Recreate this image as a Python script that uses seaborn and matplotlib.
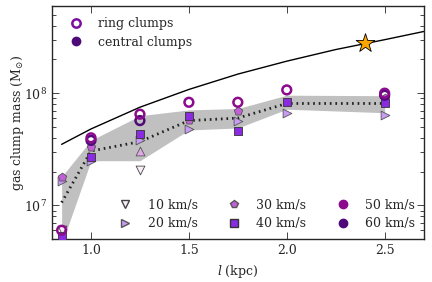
import numpy as np
import seaborn as sns
import matplotlib.pyplot as plt
from matplotlib.lines import Line2D

sns.set_style('ticks')
plt.rcParams['font.family'] = ['DejaVu Serif']
plt.rcParams['mathtext.fontset'] = 'dejavuserif'
plt.rcParams['font.size'] = 9

# clump separation l (kpc)
l_vals = [0.85, 1.0, 1.25, 1.5, 1.75, 2.0, 2.5]

# mean and spread
mean_mass = [1.06e7, 3.05e7, 3.7e7, 5.7e7, 6.0e7, 8.1e7, 8.1e7]
band_low = [4.5e6, 2.5e7, 2.5e7, 4.7e7, 4.9e7, 7.2e7, 6.7e7]
band_high = [1.8e7, 3.8e7, 6.3e7, 7.1e7, 7.3e7, 9.6e7, 9.5e7]

# per velocity dispersion
l_10 = [0.85, 1.25]
m_10 = [6.0e6, 2.07e7]
l_15 = [1.25]
m_15 = [3.05e7]
l_20 = [0.85, 1.0, 1.25, 1.5, 1.75, 2.0, 2.5]
m_20 = [1.65e7, 2.5e7, 3.8e7, 4.8e7, 5.7e7, 6.6e7, 6.4e7]
l_30 = [0.85, 1.0, 1.5, 1.75, 2.5]
m_30 = [1.8e7, 3.3e7, 5.8e7, 6.9e7, 9.0e7]
l_40 = [0.85, 1.0, 1.25, 1.5, 1.75, 2.0, 2.5]
m_40 = [5.3e6, 2.7e7, 4.3e7, 6.2e7, 4.6e7, 8.4e7, 8.1e7]
l_50 = [0.85, 1.0, 1.25, 1.5, 1.75, 2.0, 2.5]
m_50 = [6.0e6, 4.0e7, 6.5e7, 8.3e7, 8.3e7, 1.07e8, 1.0e8]
l_60 = [1.0, 1.25, 2.5]
m_60 = [3.8e7, 5.7e7, 9.6e7]

# upper limit curve
l_curve = [0.85, 1.0, 1.25, 1.5, 1.75, 2.0, 2.25, 2.5, 2.7]
m_curve = [3.5e7, 4.8e7, 7.5e7, 1.08e8, 1.48e8, 1.93e8, 2.45e8, 3.0e8, 3.55e8]
l_star = [2.4]
m_star = [2.8e8]

fig = plt.figure(figsize=(4.32, 2.82), dpi=100)
ax = fig.add_axes([0.120, 0.152, 0.861, 0.827])

ax.fill_between(l_vals, band_low, band_high, color='#c0c0c0', lw=0, zorder=1)
sns.lineplot(x=l_curve, y=m_curve, color='black', lw=1.0, ax=ax, zorder=2)
sns.lineplot(x=l_vals, y=mean_mass, color='#222222', lw=2.0, ax=ax, zorder=2,
             linestyle=(0, (0.6, 1.4)))

c10, c20, c30, c40, c50, c60 = '#f8eef8', '#c79cf2', '#c05fd6', '#8a2be2', '#8c0a8c', '#4f0a7a'

sns.scatterplot(x=l_10, y=m_10, marker='v', s=40, color=c10, edgecolor='#444444', linewidth=0.6, ax=ax, zorder=3)
sns.scatterplot(x=l_15, y=m_15, marker='^', s=40, color='#e2a8ea', edgecolor='#555555', linewidth=0.6, ax=ax, zorder=3)
sns.scatterplot(x=l_20, y=m_20, marker='>', s=40, color=c20, edgecolor='#555555', linewidth=0.6, ax=ax, zorder=3)
sns.scatterplot(x=l_30, y=m_30, marker='p', s=40, color=c30, edgecolor='#555555', linewidth=0.6, ax=ax, zorder=3)
sns.scatterplot(x=l_40, y=m_40, marker='s', s=40, color=c40, edgecolor='#333333', linewidth=0.6, ax=ax, zorder=4)
sns.scatterplot(x=l_60, y=m_60, marker='o', s=40, facecolor='none', edgecolor=c60, linewidth=1.8, ax=ax, zorder=5)
sns.scatterplot(x=l_50, y=m_50, marker='o', s=40, facecolor='none', edgecolor=c50, linewidth=1.8, ax=ax, zorder=5)
sns.scatterplot(x=l_star, y=m_star, marker='*', s=200, color='#ffa500', edgecolor='black', linewidth=0.6, ax=ax, zorder=6)

ax.set_yscale('log')
ax.set_xlim(0.8, 2.7)
ax.set_ylim(5e6, 6e8)
ax.set_xticks([1.0, 1.5, 2.0, 2.5])
ax.set_xticklabels(['1.0', '1.5', '2.0', '2.5'])
ax.set_xlabel('$l$ (kpc)')
ax.set_ylabel(r'gas clump mass (M$_{\odot}$)')
ax.yaxis.set_label_coords(-0.07, 0.5)
ax.tick_params(which='both', direction='in', top=True, right=True)
ax.tick_params(which='major', length=5, width=0.6)
ax.tick_params(which='minor', length=3, width=0.6)
for sp in ax.spines.values():
    sp.set_linewidth(1.0)

top_handles = [
    Line2D([], [], marker='o', ls='', markerfacecolor='none', markeredgecolor='#7a0fa0', markeredgewidth=1.8, markersize=6),
    Line2D([], [], marker='o', ls='', markerfacecolor='#4f0a7a', markeredgecolor='#4f0a7a', markersize=6),
]
leg1 = ax.legend(top_handles, ['ring clumps', 'central clumps'], loc='upper left',
                 frameon=False, handletextpad=0.8, borderaxespad=0.5, labelspacing=0.45)
ax.add_artist(leg1)

bot_handles = [
    Line2D([], [], marker='v', ls='', markerfacecolor=c10, markeredgecolor='#444444', markersize=6),
    Line2D([], [], marker='>', ls='', markerfacecolor=c20, markeredgecolor='#555555', markersize=6),
    Line2D([], [], marker='p', ls='', markerfacecolor=c30, markeredgecolor='#555555', markersize=6),
    Line2D([], [], marker='s', ls='', markerfacecolor=c40, markeredgecolor='#333333', markersize=6),
    Line2D([], [], marker='o', ls='', markerfacecolor=c50, markeredgecolor=c50, markersize=6),
    Line2D([], [], marker='o', ls='', markerfacecolor=c60, markeredgecolor=c60, markersize=6),
]
bot_labels = ['10 km/s', '20 km/s', '30 km/s', '40 km/s', '50 km/s', '60 km/s']
ax.legend(bot_handles, bot_labels, loc='lower right', ncol=3, frameon=False,
          handletextpad=0.8, columnspacing=1.9, labelspacing=0.45, borderaxespad=0.3)

fig.savefig('out.png', dpi=100)
